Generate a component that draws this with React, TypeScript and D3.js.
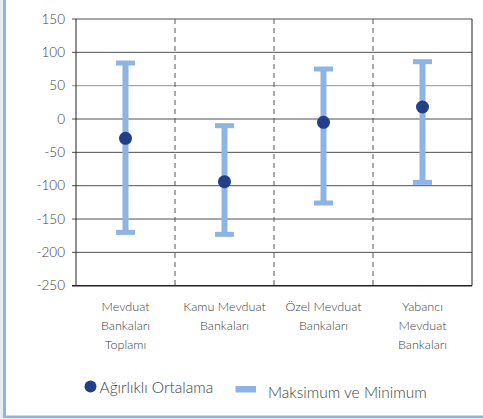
import React, { useEffect, useRef } from "react";
import * as d3 from "d3";

// categories, each label split into lines
const categories = [
  ["Mevduat", "Bankaları", "Toplamı"],
  ["Kamu Mevduat", "Bankaları"],
  ["Özel Mevduat", "Bankaları"],
  ["Yabancı", "Mevduat", "Bankaları"],
];
const maxValues = [84, -10, 75, 86];
const minValues = [-170, -173, -126, -95];
const meanValues = [-29, -94, -5, 18];
const yTicks = [150, 100, 50, 0, -50, -100, -150, -200, -250];

const W = 483;
const H = 419;
const margin = { top: 19, right: 11, bottom: 133.3, left: 76 };
const FONT = "'Lato', 'Open Sans', sans-serif";
const BAR = "#8db4e2";
const DOT = "#233f8a";

const App: React.FC = () => {
  const ref = useRef<SVGSVGElement | null>(null);

  useEffect(() => {
    document.body.style.margin = "0";
    const svg = d3.select(ref.current);
    svg.selectAll("*").remove();

    const x = d3
      .scaleBand<number>()
      .domain(categories.map((_, i) => i))
      .range([margin.left, W - margin.right])
      .padding(0);
    const y = d3
      .scaleLinear()
      .domain([-250, 150])
      .range([H - margin.bottom, margin.top]);

    // page frame
    svg.append("rect").attr("width", W).attr("height", H).attr("fill", "#e9ecef");
    svg.append("rect").attr("x", 3).attr("y", 0).attr("width", W - 3).attr("height", 418).attr("fill", BAR);
    svg.append("rect").attr("x", 6).attr("y", 0).attr("width", W - 6).attr("height", 415.5).attr("fill", "#fff");

    const x0 = margin.left;
    const x1 = W - margin.right;

    // horizontal grid
    svg
      .append("g")
      .selectAll("line")
      .data(yTicks)
      .enter()
      .append("line")
      .attr("x1", x0 - 4)
      .attr("x2", x1)
      .attr("y1", (d) => y(d))
      .attr("y2", (d) => y(d))
      .attr("stroke", (d) => (d === 50 ? "#777" : "#222"))
      .attr("stroke-width", (d) => (d === -250 ? 1.5 : 0.8));

    // dashed dividers
    svg
      .append("g")
      .selectAll("line")
      .data(categories.slice(1).map((_, i) => i + 1))
      .enter()
      .append("line")
      .attr("x1", (d) => x(d)!)
      .attr("x2", (d) => x(d)!)
      .attr("y1", y(150))
      .attr("y2", y(-250))
      .attr("stroke", "#555")
      .attr("stroke-width", 1)
      .attr("stroke-dasharray", "5,4");

    // left and right borders
    svg.append("line").attr("x1", x0).attr("x2", x0).attr("y1", y(150)).attr("y2", y(-250)).attr("stroke", "#222").attr("stroke-width", 1);
    svg.append("line").attr("x1", x1).attr("x2", x1).attr("y1", y(150)).attr("y2", y(-250)).attr("stroke", "#222").attr("stroke-width", 1);

    // tick labels
    svg
      .append("g")
      .selectAll("text")
      .data(yTicks)
      .enter()
      .append("text")
      .attr("x", 65)
      .attr("y", (d) => y(d))
      .attr("dy", "0.35em")
      .attr("text-anchor", "end")
      .attr("font-family", FONT)
      .attr("font-weight", 300)
      .attr("font-size", 13.5)
      .attr("fill", "#404040")
      .text((d) => d);

    const bw = x.bandwidth();
    const cx = (i: number) => x(i)! + bw / 2;

    // range bars
    const g = svg.append("g");
    categories.forEach((_, i) => {
      g.append("line")
        .attr("x1", cx(i))
        .attr("x2", cx(i))
        .attr("y1", y(maxValues[i]))
        .attr("y2", y(minValues[i]))
        .attr("stroke", BAR)
        .attr("stroke-width", 6);
      [maxValues[i], minValues[i]].forEach((v) => {
        g.append("rect")
          .attr("x", cx(i) - 9.5)
          .attr("y", y(v) - 2.5)
          .attr("width", 19)
          .attr("height", 5)
          .attr("fill", BAR);
      });
    });

    // weighted means
    svg
      .append("g")
      .selectAll("circle")
      .data(meanValues)
      .enter()
      .append("circle")
      .attr("cx", (_, i) => cx(i))
      .attr("cy", (d) => y(d))
      .attr("r", 6.5)
      .attr("fill", DOT);

    // category labels
    categories.forEach((lines, i) => {
      const t = svg
        .append("text")
        .attr("text-anchor", "middle")
        .attr("font-family", FONT)
        .attr("font-weight", 300)
        .attr("font-size", 12.6)
        .attr("fill", "#404040");
      lines.forEach((line, j) => {
        t.append("tspan")
          .attr("x", cx(i))
          .attr("y", 310.5 + j * 19)
          .text(line);
      });
    });

    // legend
    svg.append("circle").attr("cx", 90.5).attr("cy", 386.5).attr("r", 6).attr("fill", DOT);
    svg
      .append("text")
      .attr("x", 99.5)
      .attr("y", 392.5)
      .attr("font-family", FONT)
      .attr("font-weight", 300)
      .attr("font-size", 15.5)
      .attr("fill", "#404040")
      .text("Ağırlıklı Ortalama");
    svg.append("rect").attr("x", 235.5).attr("y", 386).attr("width", 20.5).attr("height", 6.5).attr("fill", BAR);
    svg
      .append("text")
      .attr("x", 268)
      .attr("y", 398)
      .attr("font-family", FONT)
      .attr("font-weight", 300)
      .attr("font-size", 15.5)
      .attr("fill", "#404040")
      .text("Maksimum ve Minimum");
  }, []);

  return <svg ref={ref} width={W} height={H} style={{ display: "block" }} />;
};

export default App;
